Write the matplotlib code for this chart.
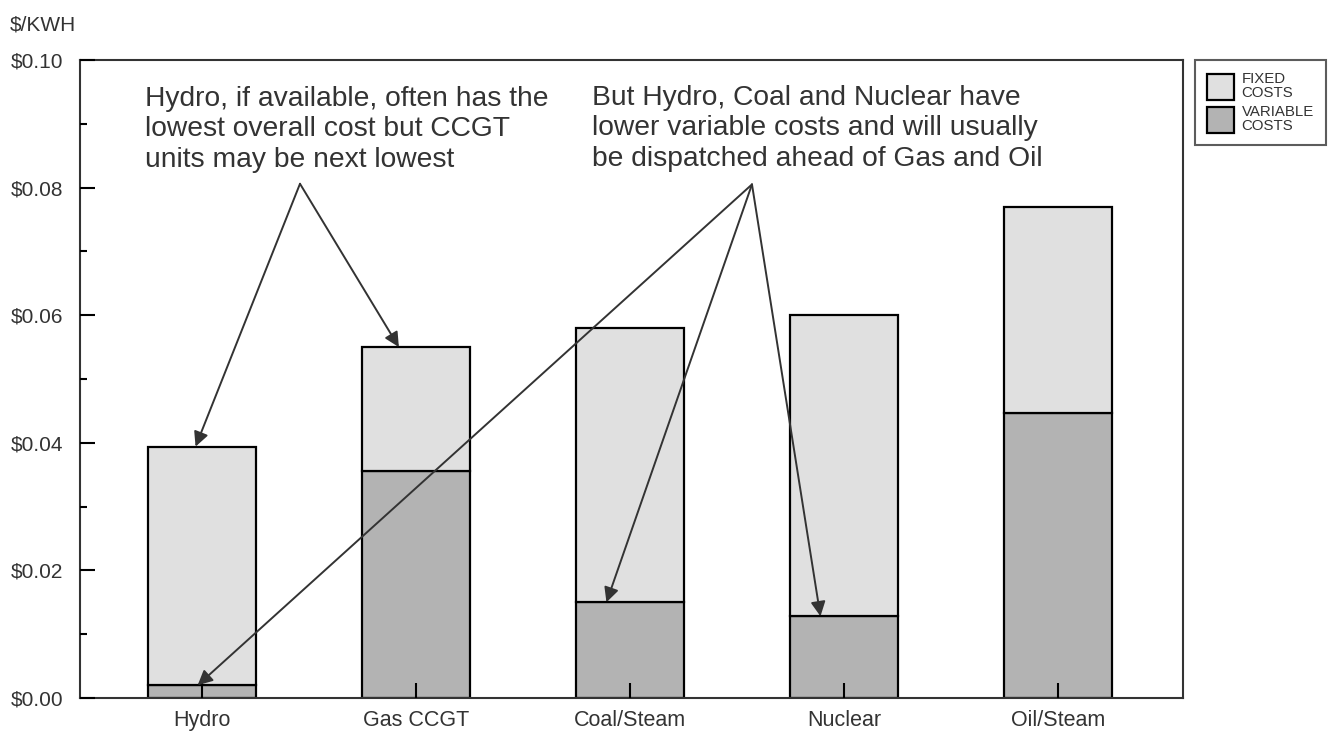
import matplotlib
matplotlib.use('Agg')
import matplotlib.pyplot as plt
from matplotlib.patches import Patch
from matplotlib.ticker import MultipleLocator, FuncFormatter

plt.rcParams['font.family'] = ['Liberation Sans', 'DejaVu Sans']

# data ($/KWH)
plants = ['Hydro', 'Gas CCGT', 'Coal/Steam', 'Nuclear', 'Oil/Steam']
total_cost = [0.0394, 0.0550, 0.0580, 0.0601, 0.0769]
variable_cost = [0.0020, 0.0355, 0.0150, 0.0128, 0.0447]
fixed_cost = [t - v for t, v in zip(total_cost, variable_cost)]

note_left = 'Hydro, if available, often has the\nlowest overall cost but CCGT\nunits may be next lowest'
note_right = 'But Hydro, Coal and Nuclear have\nlower variable costs and will usually\nbe dispatched ahead of Gas and Oil'

C_FIX = '#e0e0e0'
C_VAR = '#b3b3b3'
INK = '#333333'

fig = plt.figure(figsize=(13.31, 7.40), dpi=100)
ax = fig.add_axes([0.0601, 0.0568, 0.8287, 0.8621])

x = list(range(len(plants)))
ax.bar(x, variable_cost, width=0.505, color=C_VAR, edgecolor='black', linewidth=1.6, zorder=2)
ax.bar(x, fixed_cost, bottom=variable_cost, width=0.505, color=C_FIX, edgecolor='black', linewidth=1.6, zorder=2)

ax.set_xlim(-0.570, 4.584)
ax.set_ylim(0, 0.10)
ax.set_xticks(x)
ax.set_xticklabels(plants)
ax.yaxis.set_major_locator(MultipleLocator(0.02))
ax.yaxis.set_minor_locator(MultipleLocator(0.01))
ax.yaxis.set_major_formatter(FuncFormatter(lambda v, p: '$%.2f' % v))
ax.tick_params(axis='y', which='major', direction='in', length=11, width=1.5, pad=12,
               labelsize=15, labelcolor=INK, color='black')
ax.tick_params(axis='y', which='minor', direction='in', length=5, width=1.5, color='black')
ax.tick_params(axis='x', direction='in', length=11, width=1.5, pad=9,
               labelsize=15.5, labelcolor=INK, color='black')
for t in ax.get_xticklines():
    t.set_zorder(5)
ax.set_axisbelow(False)
for s in ax.spines.values():
    s.set_color(INK)
    s.set_linewidth(1.5)

fig.text(10 / 1331, 1 - 25 / 740, '$/KWH', fontsize=15, color=INK, va='center', ha='left')

# annotations
fig.text(145 / 1331, 1 - 86 / 740, note_left, fontsize=20.3, color=INK, va='top', ha='left',
         linespacing=1.22)
fig.text(592 / 1331, 1 - 85 / 740, note_right, fontsize=20.3, color=INK, va='top', ha='left',
         linespacing=1.22)

arrow = dict(arrowstyle='-|>', mutation_scale=22, color=INK, lw=1.4, shrinkA=0, shrinkB=0)
apex_left = (0.458, 0.0806)
apex_right = (2.570, 0.0805)
ax.annotate('', xy=(0 - 0.03, total_cost[0]), xytext=apex_left, arrowprops=arrow, zorder=6)
ax.annotate('', xy=(1 - 0.08, total_cost[1]), xytext=apex_left, arrowprops=arrow, zorder=6)
ax.annotate('', xy=(0 - 0.02, variable_cost[0]), xytext=apex_right, arrowprops=arrow, zorder=6)
ax.annotate('', xy=(2 - 0.11, variable_cost[2]), xytext=apex_right, arrowprops=arrow, zorder=6)
ax.annotate('', xy=(3 - 0.11, variable_cost[3]), xytext=apex_right, arrowprops=arrow, zorder=6)

handles = [Patch(facecolor=C_FIX, edgecolor='black', linewidth=1.6),
           Patch(facecolor=C_VAR, edgecolor='black', linewidth=1.6)]
leg = fig.legend(handles, ['FIXED\nCOSTS', 'VARIABLE\nCOSTS'], loc='upper left',
                 bbox_to_anchor=(1195 / 1331, 1 - 60 / 740), fontsize=10.8,
                 fancybox=False, frameon=True, handlelength=1.8, handleheight=2.3,
                 handletextpad=0.5, labelspacing=0.35, borderpad=0.8, borderaxespad=0)
leg.get_frame().set_edgecolor(INK)
leg.get_frame().set_linewidth(1.5)
for t in leg.get_texts():
    t.set_color(INK)
    t.set_linespacing(1.0)

fig.savefig('out.png', dpi=100)
